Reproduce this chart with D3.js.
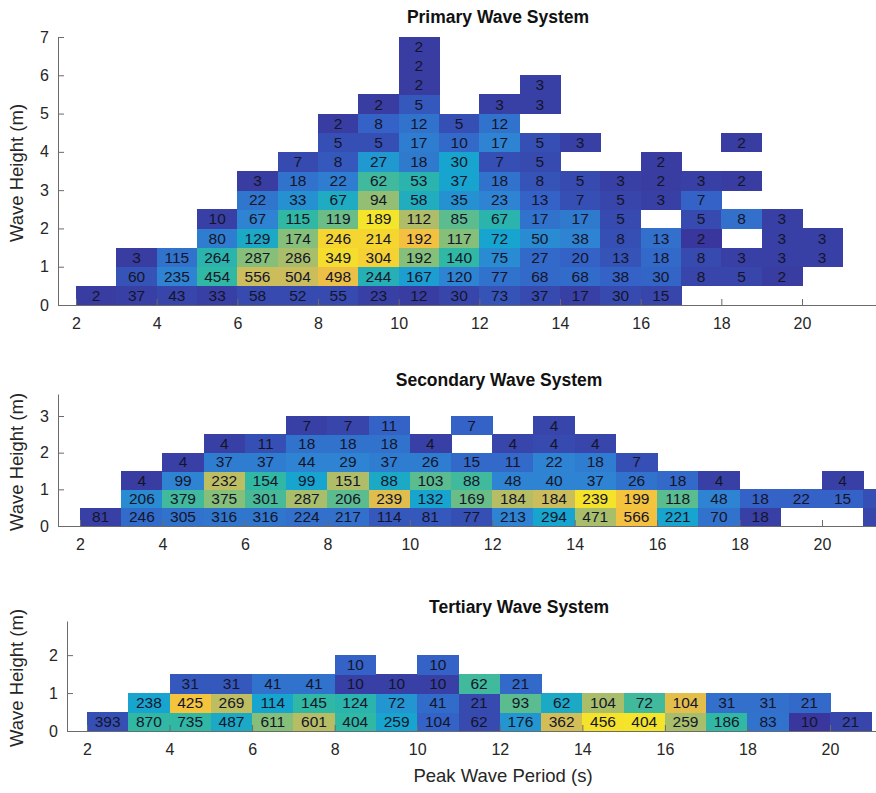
<!DOCTYPE html>
<html><head><meta charset="utf-8">
<script src="https://cdn.jsdelivr.net/npm/d3@7"></script>
<style>
body{margin:0;background:#fff}
svg{display:block}
text{font-family:"Liberation Sans",Arial,Helvetica,sans-serif}
</style>
</head><body>
<svg id="chart" width="876" height="793"></svg>
<script>
const _ = null;
// period bins: index i -> period bin [2+i, 3+i) s ; height rows: index r -> [0.5r, 0.5r+0.5) m
const periodStart = 2;
const binHeight = 0.5;
const xTicks = [2,4,6,8,10,12,14,16,18,20];

// ---- Primary wave system: counts per cell ----
const primaryCounts = [
  [2,37,43,33,58,52,55,23,12,30,73,37,17,30,15],
  [_,60,235,454,556,504,498,244,167,120,77,68,68,38,30,8,5,2],
  [_,3,115,264,287,286,349,304,192,140,75,27,20,13,18,8,3,3,3],
  [_,_,_,80,129,174,246,214,192,117,72,50,38,8,13,2,_,3,3],
  [_,_,_,10,67,115,119,189,112,85,67,17,17,5,_,5,8,3],
  [_,_,_,_,22,33,67,94,58,35,23,13,7,5,3,7],
  [_,_,_,_,3,18,22,62,53,37,18,8,5,3,2,3,2],
  [_,_,_,_,_,7,8,27,18,30,7,5,_,_,2],
  [_,_,_,_,_,_,5,5,17,10,17,5,3,_,_,_,2],
  [_,_,_,_,_,_,2,8,12,5,12],
  [_,_,_,_,_,_,_,2,5,_,3,3],
  [_,_,_,_,_,_,_,_,2,_,_,3],
  [_,_,_,_,_,_,_,_,2],
  [_,_,_,_,_,_,_,_,2]
];
// colour level (0-1 on colormap) per cell
const primaryLevels = [
  [.02,.03,.04,.03,.05,.05,.05,.03,.02,.04,.07,.05,.03,.05,.04],
  [_,.07,.2,.4,.6,.6,.68,.36,.28,.2,.15,.12,.13,.1,.11,.04,.04,.02],
  [_,.02,.15,.38,.5,.55,.85,.78,.5,.4,.22,.12,.1,.07,.12,.05,.03,.03,.03],
  [_,_,_,.18,.32,.5,.8,.8,.7,.5,.3,.22,.2,.06,.14,.01,_,.03,.03],
  [_,_,_,.03,.2,.4,.47,.9,.56,.45,.38,.15,.17,.05,_,.05,.14,.03],
  [_,_,_,_,.16,.24,.33,.52,.34,.24,.2,.1,.06,.04,.03,.1],
  [_,_,_,_,.02,.15,.18,.42,.38,.3,.15,.07,.05,.03,.02,.03,.02],
  [_,_,_,_,_,.05,.08,.26,.17,.3,.06,.05,_,_,.02],
  [_,_,_,_,_,_,.06,.06,.18,.12,.2,.06,.03,_,_,_,.02],
  [_,_,_,_,_,_,.02,.1,.15,.06,.15],
  [_,_,_,_,_,_,_,.02,.08,_,.03,.03],
  [_,_,_,_,_,_,_,_,.02,_,_,.03],
  [_,_,_,_,_,_,_,_,.02],
  [_,_,_,_,_,_,_,_,.02]
];
const primaryYTicks = [0,1,2,3,4,5,6,7];

// ---- Secondary wave system (last column is cropped: count unreadable) ----
const secondaryCounts = [
  [81,246,305,316,316,224,217,114,81,77,213,294,471,566,221,70,18,_,_,_],
  [_,206,379,375,301,287,206,239,132,169,184,184,239,199,118,48,18,22,15,_],
  [_,4,99,232,154,99,151,88,103,88,48,40,37,26,18,4,_,_,4],
  [_,_,4,37,37,44,29,37,26,15,11,22,18,7],
  [_,_,_,4,11,18,18,18,4,_,4,4,4],
  [_,_,_,_,_,7,7,11,_,7,_,4]
];
const secondaryLevels = [
  [.03,.13,.15,.16,.16,.14,.14,.08,.08,.06,.2,.3,.55,.7,.3,.15,.03,_,_,.04],
  [_,.22,.42,.5,.43,.55,.45,.65,.3,.47,.57,.6,.88,.72,.45,.2,.1,.1,.1,.06],
  [_,.02,.2,.58,.4,.3,.56,.32,.45,.42,.2,.2,.2,.15,.12,.03,_,_,.03],
  [_,_,.03,.18,.18,.2,.2,.18,.18,.12,.12,.2,.18,.06],
  [_,_,_,.03,.06,.15,.15,.15,.03,_,.04,.05,.04],
  [_,_,_,_,_,.03,.04,.1,_,.1,_,.04]
];
const secondaryYTicks = [0,1,2,3];

// ---- Tertiary wave system ----
const tertiaryCounts = [
  [393,870,735,487,611,601,404,259,104,62,176,362,456,404,259,186,83,10,21],
  [_,238,425,269,114,145,124,72,41,21,93,62,104,72,104,31,31,21],
  [_,_,31,31,41,41,10,10,10,62,21],
  [_,_,_,_,_,_,10,_,10]
];
const tertiaryLevels = [
  [.06,.4,.4,.32,.5,.57,.4,.3,.1,.05,.25,.62,.88,.9,.55,.4,.15,.01,.04],
  [_,.3,.72,.58,.3,.4,.38,.25,.13,.05,.45,.32,.55,.42,.66,.14,.14,.12],
  [_,_,.08,.08,.15,.15,.03,.03,.03,.42,.12],
  [_,_,_,_,_,_,.1,_,.1]
];
const tertiaryYTicks = [0,1,2];

// parula-like colormap as it appears in the picture (levels 0,0.1,...,1)
const colorStops = ["#3a3298","#3462c6","#2e84d2","#17a5cf","#30b8a4","#85bf7a","#cbbc5c","#f4c040","#f5d530","#f4e52a","#f5f520"];
const colorScale = d3.scaleSequential(d3.piecewise(d3.interpolateRgb, colorStops)).domain([0,1]);

const panels = [
  {title:"Primary Wave System", counts:primaryCounts, levels:primaryLevels, yTicks:primaryYTicks,
   yMax:7, y0px:305, yMaxPx:37, x2px:76, x20px:802, axisX:58, titleX:498, titleY:17},
  {title:"Secondary Wave System", counts:secondaryCounts, levels:secondaryLevels, yTicks:secondaryYTicks,
   yMax:3.6, y0px:526, yMaxPx:394, x2px:80, x20px:822, axisX:58, titleX:499, titleY:380},
  {title:"Tertiary Wave System", counts:tertiaryCounts, levels:tertiaryLevels, yTicks:tertiaryYTicks,
   yMax:2.9, y0px:731, yMaxPx:621, x2px:87, x20px:830, axisX:67, titleX:519, titleY:607}
];

const svg = d3.select("#chart");
const W = 876;

panels.forEach(p => {
  const x = d3.scaleLinear().domain([2,20]).range([p.x2px, p.x20px]);
  const y = d3.scaleLinear().domain([0,p.yMax]).range([p.y0px, p.yMaxPx]);
  const g = svg.append("g");

  const cells = [];
  p.levels.forEach((row, r) => row.forEach((lvl, i) => {
    if (lvl !== null) cells.push({period: periodStart + i, h: r*binHeight, v: (p.counts[r] || [])[i] ?? null, lvl});
  }));

  g.selectAll("rect.cell").data(cells).join("rect")
    .attr("class","cell")
    .attr("x", d => x(d.period))
    .attr("width", d => x(d.period+1) - x(d.period) + 0.5)
    .attr("y", d => y(d.h + binHeight))
    .attr("height", d => y(d.h) - y(d.h + binHeight) + 0.5)
    .attr("fill", d => colorScale(d.lvl))
    .attr("shape-rendering","crispEdges");

  g.selectAll("text.val").data(cells.filter(d => d.v !== null)).join("text")
    .attr("class","val")
    .attr("x", d => x(d.period + 0.5))
    .attr("y", d => y(d.h + binHeight/2))
    .attr("dy","0.36em")
    .attr("text-anchor","middle")
    .attr("font-size","15.5px")
    .attr("fill","#15152a")
    .text(d => d.v);

  // x axis spanning from y-axis to the right edge
  const xAxisScale = d3.scaleLinear().domain([x.invert(p.axisX), x.invert(W)]).range([p.axisX, W]);
  const gx = g.append("g").attr("transform", `translate(0,${p.y0px})`)
    .call(d3.axisBottom(xAxisScale).tickValues(xTicks).tickSizeInner(-6).tickSizeOuter(0).tickPadding(13).tickFormat(d3.format("d")));
  gx.selectAll("path,line").attr("stroke","#6b6b6b");
  gx.selectAll("text").attr("font-size","16px").attr("fill","#262626").attr("font-family",null);

  const yAxisScale = d3.scaleLinear().domain([0,p.yMax]).range([p.y0px, p.yMaxPx]);
  const gy = g.append("g").attr("transform", `translate(${p.axisX},0)`)
    .call(d3.axisLeft(yAxisScale).tickValues(p.yTicks).tickSizeInner(-6).tickSizeOuter(0).tickPadding(9).tickFormat(d3.format("d")));
  gy.selectAll("path,line").attr("stroke","#6b6b6b");
  gy.selectAll("text").attr("font-size","16px").attr("fill","#262626").attr("font-family",null);

  svg.append("text").attr("x", p.titleX).attr("y", p.titleY).attr("dy","0.36em")
    .attr("text-anchor","middle").attr("font-weight","bold").attr("font-size","17.5px").attr("fill","#111")
    .text(p.title);

  svg.append("text")
    .attr("transform", `translate(16,${(p.y0px + p.yMaxPx)/2 + 2}) rotate(-90)`)
    .attr("dy","0.36em").attr("text-anchor","middle").attr("font-size","18.5px").attr("fill","#262626")
    .text("Wave Height (m)");
});

svg.append("text").attr("x", 503).attr("y", 775).attr("dy","0.36em")
  .attr("text-anchor","middle").attr("font-size","18.5px").attr("fill","#262626")
  .text("Peak Wave Period (s)");
</script>
</body></html>
